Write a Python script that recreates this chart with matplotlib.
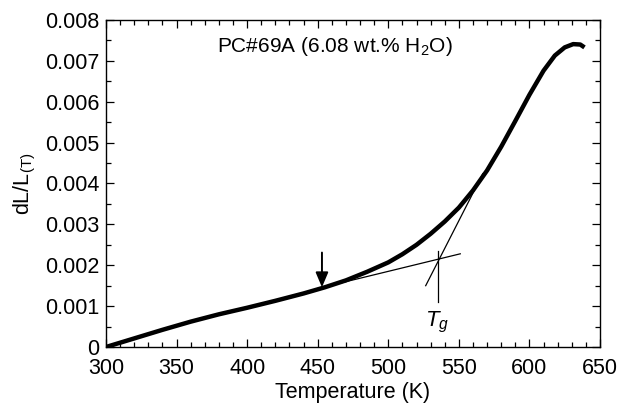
import matplotlib
matplotlib.use("Agg")
import matplotlib.pyplot as plt
from matplotlib.ticker import MultipleLocator

plt.rcParams['font.family'] = ['Liberation Sans', 'DejaVu Sans']
plt.rcParams['mathtext.fontset'] = 'custom'
plt.rcParams['mathtext.rm'] = 'Liberation Sans'
plt.rcParams['mathtext.it'] = 'Liberation Sans:italic'

# Data
temperature = [300, 320, 340, 360, 380, 400, 420, 440, 455, 470, 485, 500, 510,
               520, 530, 540, 550, 560, 570, 580, 590, 600, 610, 618, 625, 631,
               636, 639]
dl_over_l = [0.0, 0.00021, 0.00042, 0.00062, 0.00080, 0.00096, 0.00113, 0.00131,
             0.00146, 0.00163, 0.00184, 0.00207, 0.00227, 0.00250, 0.00277,
             0.00307, 0.00341, 0.00383, 0.00432, 0.00490, 0.00553, 0.00617,
             0.00676, 0.00713, 0.00733, 0.00741, 0.00740, 0.00733]

# tangent lines and Tg marker
glass_tangent_T = [450, 551]
glass_tangent_v = [0.00143, 0.00228]
melt_tangent_T = [526.5, 567]
melt_tangent_v = [0.00150, 0.00424]
tg_T = 535.5
tg_v_range = [0.00111, 0.00236]
arrow_T = 453
arrow_v = [0.00231, 0.00146]

fig = plt.figure(figsize=(6.21, 4.04), dpi=100)
ax = fig.add_axes([0.1707, 0.1411, 0.9662 - 0.1707, 0.9505 - 0.1411])

ax.plot(temperature, dl_over_l, color='black', lw=3.2, solid_capstyle='butt')
ax.plot(glass_tangent_T, glass_tangent_v, color='black', lw=0.9)
ax.plot(melt_tangent_T, melt_tangent_v, color='black', lw=0.9)
ax.plot([tg_T, tg_T], tg_v_range, color='black', lw=0.9)

ax.annotate('', xy=(arrow_T, arrow_v[1]), xytext=(arrow_T, arrow_v[0]),
            arrowprops=dict(arrowstyle='-|>,head_width=0.38,head_length=0.9',
                            color='black', lw=1.4, shrinkA=0, shrinkB=0))

ax.text(534.5, 0.00061, r'$T_g$', fontsize=16, ha='center', va='center')
ax.text(462, 0.00734, r'PC#69A (6.08 wt.% H$_2$O)', fontsize=15,
        ha='center', va='center')

ax.set_xlim(300, 650)
ax.set_ylim(0, 0.008)
ax.xaxis.set_major_locator(MultipleLocator(50))
ax.xaxis.set_minor_locator(MultipleLocator(10))
ax.yaxis.set_minor_locator(MultipleLocator(0.0005))
ax.set_yticks([0, 0.001, 0.002, 0.003, 0.004, 0.005, 0.006, 0.007, 0.008])
ax.set_yticklabels(['0', '0.001', '0.002', '0.003', '0.004', '0.005', '0.006',
                    '0.007', '0.008'])
ax.tick_params(which='both', direction='in', top=True, right=True,
               labelsize=15.5, width=0.9)
ax.tick_params(which='major', length=6)
ax.tick_params(axis='y', which='major', pad=5)
ax.tick_params(axis='x', which='major', pad=8)
ax.tick_params(which='minor', length=3.5)
for s in ax.spines.values():
    s.set_linewidth(1.0)

ax.set_xlabel('Temperature (K)', fontsize=15.5, labelpad=2)
ax.set_ylabel(r'dL/L$_{\rm (T)}$', fontsize=15.5, labelpad=5)

fig.savefig('out.png', dpi=100)
